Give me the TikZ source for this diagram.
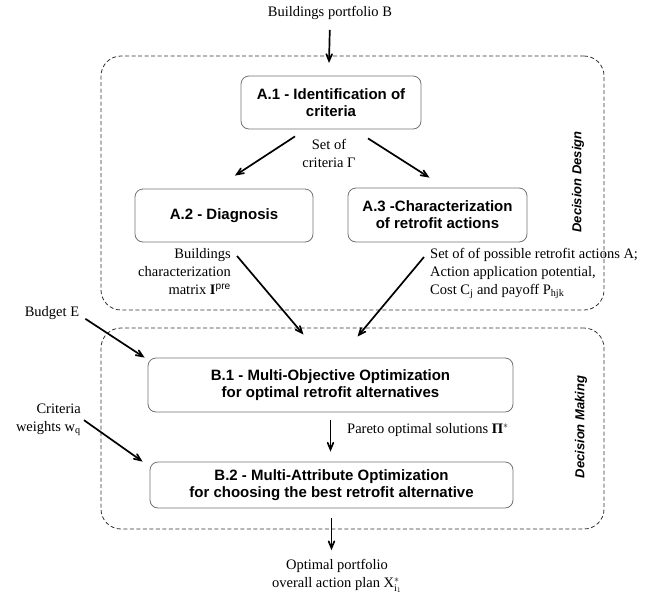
\documentclass[tikz,border=0pt]{standalone}
\usepackage{fontspec}
\setmainfont{Liberation Serif}
\setsansfont{Liberation Sans}
\usetikzlibrary{arrows}

\begin{document}
\begin{tikzpicture}[x=1pt,y=-1pt,>=angle 45]
  \useasboundingbox (0,0) rectangle (667,598);
  \tikzstyle{StepBox}=[draw=black!55,line width=0.8pt,rounded corners=8pt,inner sep=0pt,
    align=center,font=\sffamily\bfseries\fontsize{15}{17}\selectfont]
  \tikzstyle{PhaseFrame}=[draw=black!80,dash pattern=on 4pt off 2.5pt,line width=0.8pt,rounded corners=20pt,inner sep=0pt]
  \tikzstyle{PhaseName}=[rotate=90,font=\sffamily\bfseries\itshape\fontsize{13}{15}\selectfont]
  \tikzstyle{Note}=[inner sep=1pt,font=\fontsize{14.5}{18}\selectfont]
  \tikzstyle{Flow}=[->,line width=1.7pt]

  \node[PhaseFrame,minimum width=503,minimum height=254] (design) at (352.5,183) {};
  \node[PhaseFrame,minimum width=503,minimum height=201] (making) at (352.5,428.5) {};
  \node[PhaseName] (designname) at (578,182) {Decision Design};
  \node[PhaseName] (makingname) at (581,427) {Decision Making};

  \node[StepBox,minimum width=180,minimum height=53] (a1) at (331,102.5) {A.1 - Identification of\\criteria};
  \node[StepBox,minimum width=178,minimum height=53] (a2) at (224,215.5) {A.2 - Diagnosis};
  \node[StepBox,minimum width=179,minimum height=54] (a3) at (437.5,215) {A.3 -Characterization\\of retrofit actions};
  \node[StepBox,minimum width=365,minimum height=54] (b1) at (330.5,385) {B.1 - Multi-Objective Optimization\\for optimal retrofit alternatives};
  \node[StepBox,minimum width=363,minimum height=46] (b2) at (331.5,485) {B.2 - Multi-Attribute Optimization\\for choosing the best retrofit alternative};

  \node[Note] (portfolio) at (330,13) {Buildings portfolio B};
  \node[Note,align=center] (criteria) at (329,153.5) {Set of\\criteria Γ};
  \node[Note,align=right,anchor=north east] (matrix) at (232,247) {Buildings\\characterization\\matrix \textbf{I}\textsuperscript{\sffamily pre}};
  \node[Note,align=left,anchor=north west] (actions) at (429,247) {Set of of possible retrofit actions A;\\Action application potential,\\Cost C$_{\mathrm{j}}$ and payoff P$_{\mathrm{hjk}}$};
  \node[Note] (budget) at (52,313) {Budget E};
  \node[Note,align=right,anchor=north east] (weights) at (82,403) {Criteria\\weights w$_{\mathrm{q}}$};
  \node[Note,anchor=west] (pareto) at (346,430) {Pareto optimal solutions \textbf{Π}$^{*}$};
  \node[Note,align=center] (plan) at (337,576) {Optimal portfolio\\overall action plan X$^{*}_{\mathrm{i}_1}$};

  \coordinate (entry) at (329,63);
  \draw[Flow,shorten <=9pt] (portfolio.south) -- (entry);
  \draw[Flow] ([xshift=-36pt,yshift=-7pt]a1.south) -- ([xshift=11pt,yshift=13pt]a2.north);
  \draw[Flow] ([xshift=37pt,yshift=-9pt]a1.south) -- ([xshift=-8pt,yshift=10pt]a3.north);
  \draw[Flow] ([xshift=5pt,yshift=-9pt]matrix.north east) -- ([xshift=-27pt,yshift=23pt]b1.north);
  \draw[Flow] ([xshift=-5pt,yshift=-10pt]actions.north west) -- ([xshift=27pt,yshift=21pt]b1.north);
  \draw[Flow] ([xshift=5pt,yshift=2pt]budget.south east) -- ([xshift=-3pt]b1.north west);
  \draw[Flow] ([xshift=2pt]weights.east) -- ([xshift=-7pt]b2.north west);
  \draw[Flow,shorten <=8pt,shorten >=10pt] (b1.south) -- (b1.south |- b2.north);
  \draw[Flow,shorten <=10pt] (b2.south) -- ([yshift=8pt]b2.south |- plan.north);
\end{tikzpicture}
\end{document}
